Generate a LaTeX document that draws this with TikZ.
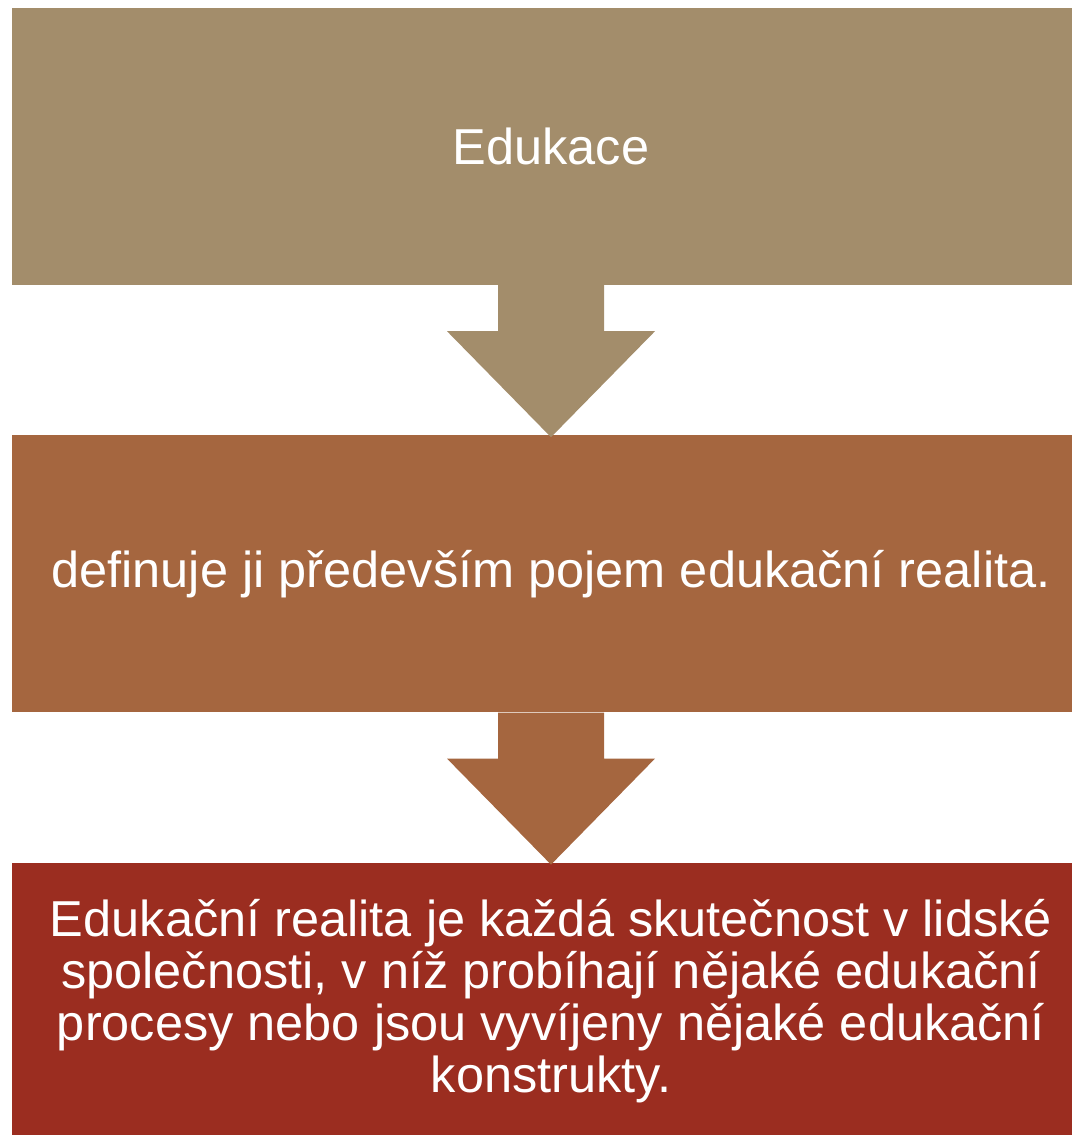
\documentclass[tikz,border=0pt]{standalone}
\usepackage{fontspec}
\setmainfont{Liberation Sans}
\usetikzlibrary{positioning,calc}

\definecolor{edutan}{HTML}{A38D6B}
\definecolor{edubrown}{HTML}{A5663F}
\definecolor{edured}{HTML}{9B2D20}

% block arrow from the bottom of one stage to the top of the next
\newcommand{\stagearrow}[3]{%
  \fill[#1] ($(#2.south)+(-53,0)$) -- ($(#2.south)+(-53,46)$)
    -- ($(#2.south)+(-104,46)$) -- ($(#3.north)+(0,2)$)
    -- ($(#2.south)+(104,46)$) -- ($(#2.south)+(53,46)$)
    -- ($(#2.south)+(53,0)$) -- cycle;}

\begin{document}
\begin{tikzpicture}[x=1pt,y=-1pt,
  stage/.style={minimum width=1078pt,minimum height=277pt,inner sep=0pt,
    text=white,align=center,font=\fontsize{50.5}{52}\selectfont}]
  \useasboundingbox (0,0) rectangle (1071,1135);
  \node[stage,fill=edutan] (edukace) at (551,146.5) {Edukace};
  \node[stage,fill=edubrown,below=150pt of edukace] (definice)
    {definuje ji především pojem edukační realita.};
  \node[stage,fill=edured,below=150pt of definice] (realita)
    {Edukační realita je každá skutečnost v lidské\\
     společnosti, v níž probíhají nějaké edukační\\
     procesy nebo jsou vyvíjeny nějaké edukační\\
     konstrukty.};
  \stagearrow{edutan}{edukace}{definice}
  \stagearrow{edubrown}{definice}{realita}
\end{tikzpicture}
\end{document}
